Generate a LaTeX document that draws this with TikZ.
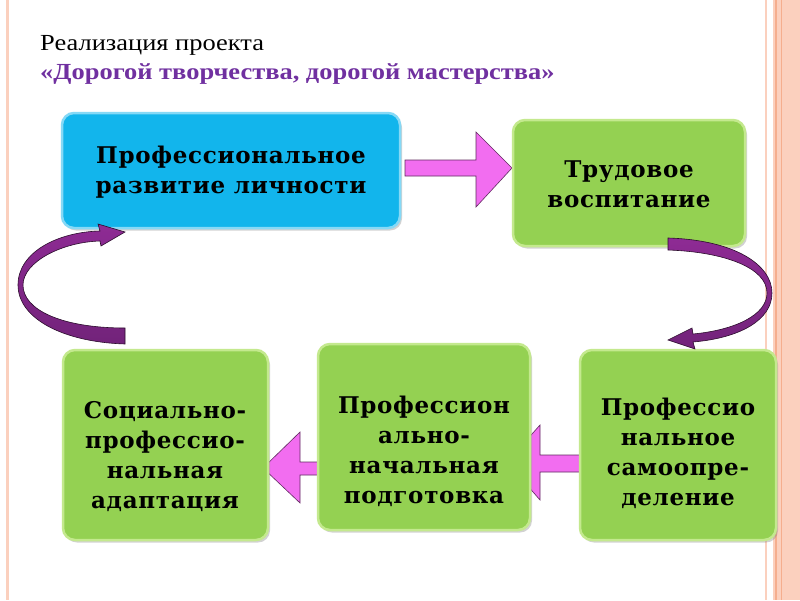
\documentclass[tikz,border=0pt]{standalone}
\usepackage{fontspec}
\setmainfont{Liberation Serif}
\newfontfamily\boxfont[LetterSpace=3]{DejaVu Serif}
\usetikzlibrary{shadows}
\definecolor{gfill}{HTML}{94D152}
\definecolor{gedge}{HTML}{C4E98E}
\definecolor{bfill}{HTML}{12B5EC}
\definecolor{bedge}{HTML}{86D9F6}
\definecolor{pinkarr}{HTML}{F26DF0}
\definecolor{purparr}{HTML}{8E2B94}
\definecolor{purpdark}{HTML}{72237A}
\definecolor{titlepurple}{HTML}{7030A0}
\definecolor{salmon}{HTML}{FBD0BE}
\definecolor{salmondark}{HTML}{F5AE8E}
\begin{document}
\begin{tikzpicture}[x=1pt,y=-1pt,
  box/.style={rounded corners=12pt, line width=2.5pt, drop shadow={opacity=0.35,shadow xshift=2pt,shadow yshift=-2.5pt}},
  greenbox/.style={box, fill=gfill, draw=gedge},
  bluebox/.style={box, fill=bfill, draw=bedge},
  boxtext/.style={align=center, font=\boxfont\bfseries\fontsize{23}{30}\selectfont, text=black},
  pinkshape/.style={fill=pinkarr, draw=black!60!pinkarr, line width=0.6pt},
  purpshape/.style={top color=purparr, bottom color=purpdark, draw=black!70!purparr, line width=0.6pt}]
\useasboundingbox (0,0) rectangle (800,600);
% borders
\fill[white] (0,0) rectangle (800,600);
\draw[salmon, line width=3pt] (7,0) -- (7,600);
\draw[salmon, line width=2pt] (766,0) -- (766,600);
\fill[salmon] (773,0) rectangle (800,600);
\draw[salmondark, line width=1.5pt] (776,0) -- (776,600);
\draw[salmondark, line width=1pt] (781,0) -- (781,600);
% title
\node[anchor=base west, inner sep=0pt, font=\fontsize{23}{26}\selectfont] (t1) at (40,50) {\scalebox{1.15}[1]{Реализация проекта}};
\node[anchor=base west, inner sep=0pt, font=\bfseries\fontsize{23}{26}\selectfont, text=titlepurple] (t2) at (40,79) {\scalebox{1.15}[1]{«Дорогой творчества, дорогой мастерства»}};
% pink arrows
\path[pinkshape] (405,160) -- (476,160) -- (476,132) -- (512,168) -- (476,207) -- (476,176) -- (405,176) -- cycle;
\path[pinkshape] (330,462) -- (300,462) -- (300,432) -- (263,468) -- (300,503) -- (300,475) -- (330,475) -- cycle;
\path[pinkshape] (583,455) -- (540,455) -- (540,425) -- (507,462) -- (540,500) -- (540,472) -- (583,472) -- cycle;
% boxes
\node[bluebox, minimum width=338pt, minimum height=115pt] (b1) at (231,170.5) {};
\node[greenbox, minimum width=232pt, minimum height=126pt] (b2) at (629,183) {};
\node[greenbox, minimum width=205pt, minimum height=190pt] (b3) at (165.5,445) {};
\node[greenbox, minimum width=212pt, minimum height=186pt] (b4) at (424,437) {};
\node[greenbox, minimum width=196pt, minimum height=190pt] (b5) at (678,445) {};
% texts
\node[boxtext] (b1t) at (231,172) {Профессиональное\\развитие личности};
\node[boxtext] (b2t) at (629,184) {Трудовое\\воспитание};
\node[boxtext] (b3t) at (165,457) {Социально-\\профессио-\\нальная\\адаптация};
\node[boxtext] (b4t) at (424,451) {Профессион\\ально-\\начальная\\подготовка};
\node[boxtext] (b5t) at (678,453) {Профессио\\нальное\\самоопре-\\деление};
% curved arrows
\path[purpshape] (125,344) .. controls (62,342) and (18,318) .. (18,285)
  .. controls (18,252) and (58,232) .. (100,231) -- (98,224) -- (125,232) -- (101,246) -- (100,241)
  .. controls (62,242) and (23,262) .. (23,285)
  .. controls (23,310) and (62,328) .. (125,328) -- cycle;
\path[purpshape] (668,238) .. controls (735,240) and (772,265) .. (772,293)
  .. controls (772,320) and (740,338) .. (693,342) -- (695,349) -- (668,340) -- (692,328) -- (693,334)
  .. controls (735,330) and (767,315) .. (767,293)
  .. controls (767,268) and (725,252) .. (668,250) -- cycle;
\end{tikzpicture}
\end{document}
